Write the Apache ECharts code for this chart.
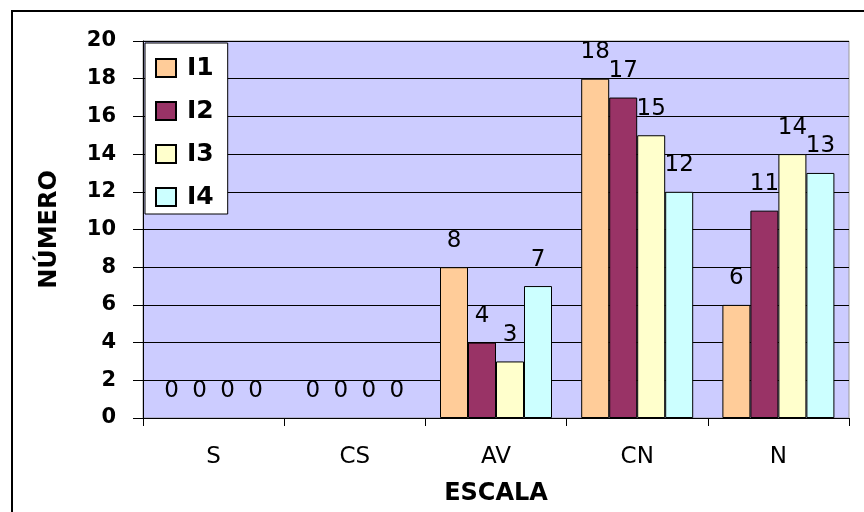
<!DOCTYPE html>
<html>
<head>
<meta charset="utf-8">
<script src="https://cdn.jsdelivr.net/npm/echarts@6/dist/echarts.min.js"></script>
<style>html,body{margin:0;padding:0;background:#fff}#c{width:864px;height:512px}</style>
</head>
<body>
<div id="c"></div>
<script>
var categories = ['S', 'CS', 'AV', 'CN', 'N'];
var seriesNames = ['I1', 'I2', 'I3', 'I4'];
var I1 = [0, 0, 8, 18, 6];
var I2 = [0, 0, 4, 17, 11];
var I3 = [0, 0, 3, 15, 14];
var I4 = [0, 0, 7, 12, 13];
var yTicks = [0, 2, 4, 6, 8, 10, 12, 14, 16, 18, 20];
var colors = ['#FFCC99', '#993366', '#FFFFCC', '#CCFFFF'];

var values = [I1, I2, I3, I4];
var font = '"DejaVu Sans", sans-serif';
var chart = echarts.init(document.getElementById('c'), null, {renderer: 'canvas'});
chart.setOption({
  animation: false,
  backgroundColor: '#fff',
  graphic: [{
    type: 'rect', z: 100, silent: true,
    shape: {x: 12, y: 11, width: 900, height: 600},
    style: {fill: 'none', stroke: '#000', lineWidth: 2}
  }],
  grid: {left: 143, right: 15, top: 41, bottom: 94, show: true,
    backgroundColor: '#CCCCFF', borderColor: '#999', borderWidth: 1},
  legend: {
    orient: 'vertical', left: 145, top: 43,
    backgroundColor: '#fff', borderColor: '#000', borderWidth: 1,
    padding: [12, 14, 4, 10], itemGap: 17, itemWidth: 20, itemHeight: 18,
    icon: 'rect',
    textStyle: {fontFamily: font, fontSize: 25, fontWeight: 'bold', color: '#000', lineHeight: 26, padding: [0, 0, 0, 6]},
    data: seriesNames
  },
  xAxis: {
    type: 'category', data: categories,
    name: 'ESCALA', nameLocation: 'middle', nameGap: 64,
    nameTextStyle: {fontFamily: font, fontSize: 24, fontWeight: 'bold', color: '#000'},
    axisLine: {lineStyle: {color: '#000', width: 1}},
    axisTick: {show: true, length: 8, lineStyle: {color: '#000'}},
    axisLabel: {fontFamily: font, fontSize: 23, color: '#000', margin: 28}
  },
  yAxis: {
    type: 'value', min: 0, max: 20, interval: 2,
    name: 'NÚMERO', nameLocation: 'middle', nameGap: 81,
    nameTextStyle: {fontFamily: font, fontSize: 24, fontWeight: 'bold', color: '#000'},
    axisLine: {show: true, lineStyle: {color: '#000', width: 1}},
    axisTick: {show: true, length: 10, lineStyle: {color: '#000'}},
    axisLabel: {fontFamily: font, fontSize: 21, fontWeight: 'bold', color: '#000', margin: 27,
      formatter: function (v) { return yTicks.indexOf(v) >= 0 ? String(v) : ''; }},
    splitLine: {show: true, lineStyle: {color: '#000', width: 1}}
  },
  series: values.map(function (d, i) {
    return {
      name: seriesNames[i], type: 'bar',
      data: d.map(function (v) {
        return v === 0 ? {value: v, itemStyle: {borderWidth: 0}} : v;
      }),
      barWidth: 28, barGap: '0%',
      itemStyle: {color: colors[i], borderColor: '#000', borderWidth: 1},
      label: {show: true, position: 'top', distance: 15,
        fontFamily: font, fontSize: 23, color: '#000'}
    };
  })
});
</script>
</body>
</html>
